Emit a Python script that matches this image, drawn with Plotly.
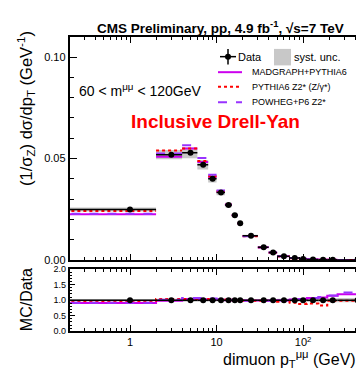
import plotly.graph_objects as go
import numpy as np

# ---------------- data ----------------
pt_lo = [0, 2, 4, 6, 8, 10, 12.5, 15, 17.5, 20, 30, 40, 50, 70, 90, 110, 150, 190, 250]
pt_hi = [2, 4, 6, 8, 10, 12.5, 15, 17.5, 20, 30, 40, 50, 70, 90, 110, 150, 190, 250, 600]
pt_center = [1, 3, 5, 7, 9, 11.25, 13.75, 16.25, 18.75, 25, 35, 45, 60, 80, 100, 130, 170, 220, 425]

data_xsec = [0.0248, 0.0519, 0.0528, 0.0469, 0.0400, 0.0332, 0.0271, 0.0220, 0.0181, 0.0119,
             0.0063, 0.0037, 0.0018, 0.0009, 0.0005, 0.00025, 0.00012, 0.00006, 0.000012]
stat_rel = [0.005, 0.005, 0.005, 0.005, 0.005, 0.005, 0.006, 0.006, 0.007, 0.006,
            0.008, 0.01, 0.01, 0.015, 0.02, 0.02, 0.03, 0.04, 0.05]
syst_rel = [0.04, 0.045, 0.05, 0.05, 0.045, 0.04, 0.04, 0.04, 0.04, 0.04,
            0.04, 0.04, 0.045, 0.05, 0.05, 0.055, 0.06, 0.065, 0.07]

ratio_madgraph = [0.91, 0.98, 1.04, 1.03, 1.02, 1.01, 1.00, 1.00, 1.00, 0.99,
                  0.99, 0.99, 1.00, 1.02, 1.04, 1.07, 1.09, 1.14, 1.19]
ratio_pythia = [0.97, 1.04, 1.04, 1.04, 1.03, 1.02, 1.01, 1.00, 0.99, 0.98,
                0.98, 0.97, 0.95, 0.92, 0.88, 0.89, 0.83, 0.98, 0.98]
ratio_powheg = [0.92, 1.01, 1.07, 1.07, 1.05, 1.03, 1.01, 1.00, 0.99, 0.98,
                0.98, 0.98, 0.99, 1.01, 1.03, 1.07, 1.10, 1.15, 1.25]

x_tickvals = [1, 10, 100]
x_ticktext = ["1", "10", "10<sup>2</sup>"]
x_minor = [0.2, 0.3, 0.4, 0.5, 0.6, 0.7, 0.8, 0.9, 2, 3, 4, 5, 6, 7, 8, 9,
           20, 30, 40, 50, 60, 70, 80, 90, 200, 300, 400, 500, 600]

# ---------------- style ----------------
W, H = 364, 369
FONT = "Liberation Sans, Arial, Helvetica, sans-serif"
C_MAD = "#cc00ee"
C_PY = "#ff0000"
C_POW = "#9933ff"
C_SYS = "#c8c8c8"

def px_x(p):
    return p / W

def px_y(p):
    return 1 - p / H

def lo(i):
    return max(pt_lo[i], 0.05)

def segs(vals):
    xs, ys = [], []
    for i, v in enumerate(vals):
        xs += [lo(i), pt_hi[i], None]
        ys += [v, v, None]
    return xs, ys

def boxes(center_vals, rel):
    xs, ys = [], []
    for i, v in enumerate(center_vals):
        a, b = v * (1 - rel[i]), v * (1 + rel[i])
        xs += [lo(i), pt_hi[i], pt_hi[i], lo(i), lo(i), None]
        ys += [a, a, b, b, a, None]
    return xs, ys

fig = go.Figure()

# ---- main panel ----
bx, by = boxes(data_xsec, syst_rel)
fig.add_trace(go.Scatter(x=bx, y=by, fill="toself", fillcolor=C_SYS, line=dict(width=0),
                         mode="lines", xaxis="x", yaxis="y", hoverinfo="skip"))
for ratio, col, dash in [(ratio_madgraph, C_MAD, "solid"), (ratio_pythia, C_PY, "dot"),
                         (ratio_powheg, C_POW, "dash")]:
    mc = [d * r for d, r in zip(data_xsec, ratio)]
    sx, sy = segs(mc)
    fig.add_trace(go.Scatter(x=sx, y=sy, mode="lines", line=dict(color=col, width=2, dash=dash),
                             xaxis="x", yaxis="y"))

err_minus = [c - lo(i) for i, c in enumerate(pt_center)]
err_plus = [pt_hi[i] - c for i, c in enumerate(pt_center)]
fig.add_trace(go.Scatter(
    x=pt_center, y=data_xsec, mode="markers",
    marker=dict(color="black", size=6),
    error_x=dict(type="data", symmetric=False, array=err_plus, arrayminus=err_minus,
                 color="black", thickness=1.5, width=0),
    error_y=dict(type="data", array=[d * s for d, s in zip(data_xsec, stat_rel)],
                 color="black", thickness=1.5, width=0),
    xaxis="x", yaxis="y"))

# ---- ratio panel ----
ones = [1.0] * len(pt_center)
rbx, rby = boxes(ones, syst_rel)
fig.add_trace(go.Scatter(x=rbx, y=rby, fill="toself", fillcolor=C_SYS, line=dict(width=0),
                         mode="lines", xaxis="x2", yaxis="y2", hoverinfo="skip"))
step_x = [lo(i) for i in range(len(pt_lo))] + [pt_hi[-1]]
for ratio, col, dash in [(ratio_madgraph, C_MAD, "solid"), (ratio_pythia, C_PY, "dot"),
                         (ratio_powheg, C_POW, "dash")]:
    fig.add_trace(go.Scatter(x=step_x, y=list(ratio) + [ratio[-1]], mode="lines",
                             line=dict(color=col, width=2, dash=dash, shape="hv"),
                             xaxis="x2", yaxis="y2"))
fig.add_trace(go.Scatter(
    x=pt_center, y=ones, mode="markers",
    marker=dict(color="black", size=6),
    error_x=dict(type="data", symmetric=False, array=err_plus, arrayminus=err_minus,
                 color="black", thickness=1.5, width=0),
    error_y=dict(type="data", array=stat_rel, color="black", thickness=1.5, width=0),
    xaxis="x2", yaxis="y2"))

# ---------------- axes ----------------
xdom = [px_x(61.5), px_x(362.5)]
common_x = dict(type="log", range=[np.log10(0.2), np.log10(600)], domain=xdom,
                showline=True, linecolor="black", linewidth=1.5, mirror="ticks",
                ticks="inside", ticklen=6, tickwidth=1, tickcolor="black",
                tickvals=x_tickvals, ticktext=x_ticktext, showgrid=False, zeroline=False,
                minor=dict(tickvals=x_minor, ticks="inside", ticklen=3, tickcolor="black",
                           showgrid=False),
                tickfont=dict(family=FONT, size=11, color="black"))
fig.update_layout(
    width=W, height=H, margin=dict(l=0, r=0, t=0, b=0),
    paper_bgcolor="white", plot_bgcolor="white", showlegend=False,
    xaxis=dict(common_x, anchor="y", showticklabels=False),
    xaxis2=dict(common_x, anchor="y2", showticklabels=True),
    yaxis=dict(domain=[px_y(254.5), px_y(24.5)], range=[0, 0.11], anchor="x",
               tickvals=[0, 0.05, 0.10], tickformat=".2f",
               showline=True, linecolor="black", linewidth=1.5, mirror="ticks",
               ticks="inside", ticklen=8, tickcolor="black", showgrid=False, zeroline=False,
               minor=dict(dtick=0.01, ticks="inside", ticklen=5, tickcolor="black", showgrid=False),
               tickfont=dict(family=FONT, size=11, color="black")),
    yaxis2=dict(domain=[px_y(328), px_y(264)], range=[0, 2.0], anchor="x2",
                tickvals=[0, 0.5, 1.0, 1.5, 2.0], tickformat=".1f",
                showline=True, linecolor="black", linewidth=1.5, mirror="ticks",
                ticks="inside", ticklen=6, tickcolor="black", showgrid=False, zeroline=False,
                minor=dict(dtick=0.1, ticks="inside", ticklen=3, tickcolor="black", showgrid=False),
                tickfont=dict(family=FONT, size=9, color="black")),
)

# ---------------- texts ----------------
def ann(text, x, y, size, xanchor="center", yanchor="middle", color="black", angle=0):
    fig.add_annotation(text=text, x=px_x(x), y=px_y(y), xref="paper", yref="paper",
                       xanchor=xanchor, yanchor=yanchor, showarrow=False, textangle=angle,
                       align="left", borderpad=0,
                       font=dict(family=FONT, size=size, color=color))

ann("<b>CMS Preliminary, pp, 4.9 fb<sup>-1</sup>, √s=7 TeV</b>", 212, 14, 13.5)
ann("60 &lt; m<sup>μμ</sup> &lt; 120GeV", 70, 79, 14, xanchor="left")
ann("<b>Inclusive Drell-Yan</b>", 207, 112, 19, color="#ff0000")
ann("(1/σ<sub>Z</sub>) dσ/dp<sub>T</sub> (GeV<sup>-1</sup>)", 18, 18, 16.5, yanchor="top", angle=-90)
ann("MC/Data", 18, 296, 16, angle=-90)
ann("dimuon p<sub>T</sub><sup>μμ</sup> (GeV)", 214, 357, 16, xanchor="left")

# ---------------- legend ----------------
shapes = []
def pline(x0, y0, x1, y1, color, width=1.5, dash="solid"):
    shapes.append(dict(type="line", xref="paper", yref="paper", x0=px_x(x0), y0=px_y(y0),
                       x1=px_x(x1), y1=px_y(y1), line=dict(color=color, width=width, dash=dash)))

pline(212, 45, 228, 45, "black")
pline(220, 37, 220, 53, "black")
shapes.append(dict(type="circle", xref="paper", yref="paper", xsizemode="pixel", ysizemode="pixel",
                   xanchor=px_x(220), yanchor=px_y(45), x0=-3, x1=3, y0=-3, y1=3,
                   fillcolor="black", line=dict(width=0)))
shapes.append(dict(type="rect", xref="paper", yref="paper", x0=px_x(266), x1=px_x(283),
                   y0=px_y(37), y1=px_y(54), fillcolor=C_SYS, line=dict(width=0)))
ann("Data", 229, 45, 11, xanchor="left")
ann("syst. unc.", 285, 45, 11, xanchor="left")
pline(210, 61, 234, 61, C_MAD, 2)
pline(210, 76, 234, 76, C_PY, 2, "dot")
pline(210, 92, 234, 92, C_POW, 2, "dash")
ann("MADGRAPH+PYTHIA6", 243, 61, 9, xanchor="left")
ann("PYTHIA6 Z2* (Z/γ*)", 243, 76, 9, xanchor="left")
ann("POWHEG+P6 Z2*", 243, 92, 9, xanchor="left")
fig.update_layout(shapes=shapes)

fig.write_html("out.html")
